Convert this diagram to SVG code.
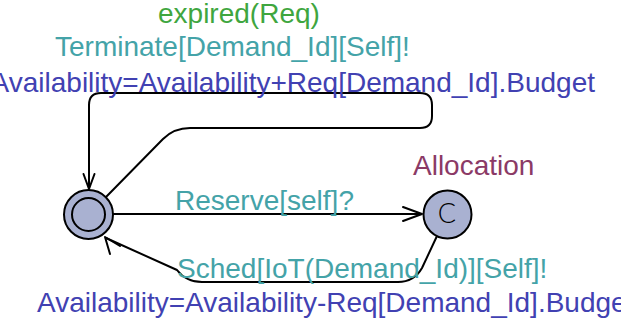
<svg xmlns="http://www.w3.org/2000/svg" width="621" height="321" viewBox="0 0 621 321">
  <style>
    text { font-family: "Liberation Sans", Arial, sans-serif; font-size: 28px; }
    .loc { fill: #a9b1d1; stroke: #000; stroke-width: 2; }
    .edge { fill: none; stroke: #000; stroke-width: 2; stroke-linejoin: round; }
    .head { fill: none; stroke: #000; stroke-width: 2; stroke-linecap: round; stroke-linejoin: round; }
    .mark { font-family: Lato, "Open Sans", "Liberation Sans", sans-serif; font-weight: 300; font-size: 27px; fill: #000; }
    .name { fill: #8b3a66; }
    .guard { fill: #3fa63f; }
    .sync { fill: #44a3a8; }
    .assign { fill: #4141b2; }
  </style>

  <g id="connectors">
    <!-- Idle -> Idle via expired(Req) loop -->
    <path class="edge" d="M106,197 L163,139 Q174,128 190,128 L420,128 Q432,128 432,116 L432,105 Q432,93 420,93 L101,93 Q89,93 89,105 L89,189"/>
    <polyline class="head" points="83.5,174 89,189 94.5,174"/>
    <!-- Idle -> Allocation -->
    <path class="edge" d="M113,214 L422,214"/>
    <polyline class="head" points="403,207 422,214 403,221"/>
    <!-- Allocation -> Idle -->
    <path class="edge" d="M437,236 L422,268 Q414,282 398,282 L202,282 Q186,282 177,270 L106,238"/>
    <polyline class="head" points="110,254 105,237 120,246"/>
  </g>

  <g id="idle">
    <circle class="loc" cx="88.5" cy="214.5" r="24.5"/>
    <circle class="loc" cx="88.5" cy="214.5" r="16.5"/>
  </g>

  <g id="allocation">
    <circle class="loc" cx="447.5" cy="214.5" r="24"/>
    <text class="mark" x="447" y="223" text-anchor="middle">C</text>
    <text class="name" x="413" y="175">Allocation</text>
  </g>

  <g id="labels">
    <text class="guard" x="158" y="23">expired(Req)</text>
    <text class="sync" x="55" y="56">Terminate[Demand_Id][Self]!</text>
    <text class="assign" x="595" y="92" text-anchor="end">Availability=Availability+Req[Demand_Id].Budget</text>
    <text class="sync" x="175" y="210">Reserve[self]?</text>
    <text class="sync" x="177" y="278">Sched[IoT(Demand_Id)][Self]!</text>
    <text class="assign" x="37" y="312">Availability=Availability-Req[Demand_Id].Budget</text>
  </g>
</svg>
